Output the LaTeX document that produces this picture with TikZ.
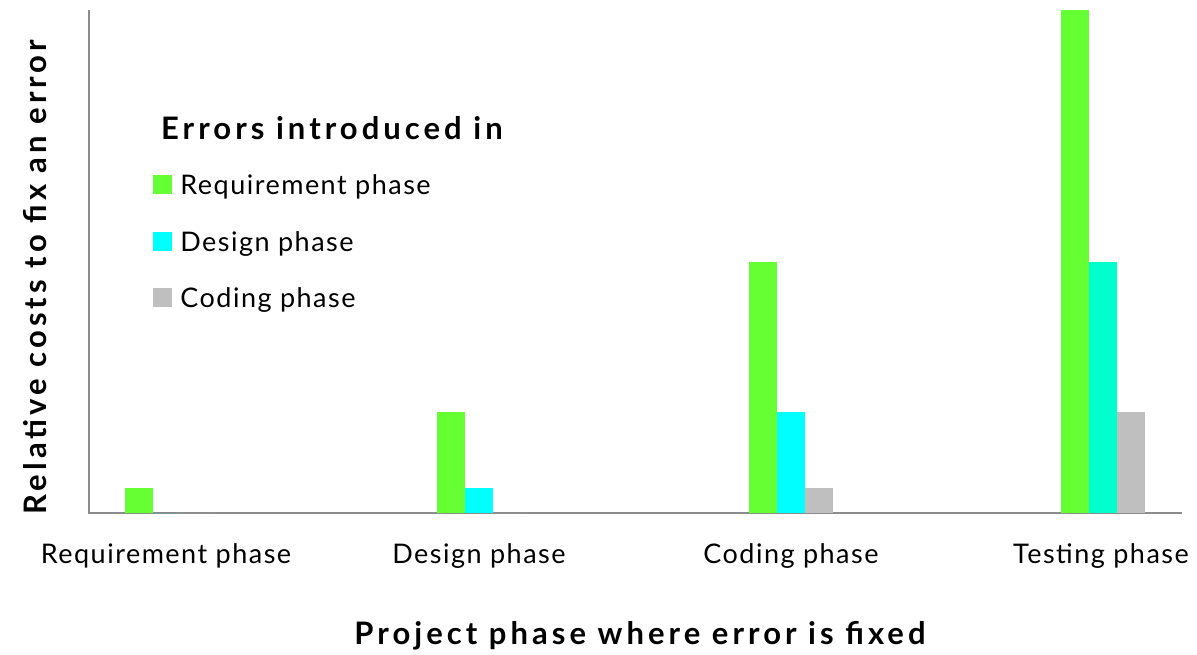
\documentclass[tikz,border=0pt]{standalone}
\usepackage{fontspec}
\setmainfont{Lato}
\newfontfamily\lblfont[LetterSpace=5.5]{Lato}
\newfontfamily\ttlfont[LetterSpace=13]{Lato}
\definecolor{reqgreen}{HTML}{66FF33}
\definecolor{dsgcyan}{HTML}{00FFFF}
\definecolor{dsgteal}{HTML}{00FFCC}
\definecolor{codgray}{HTML}{BFBFBF}
\definecolor{axisgray}{HTML}{8C8C8C}

\begin{document}
\begin{tikzpicture}[x=1pt,y=-1pt,
    ticklbl/.style={font=\lblfont\fontsize{27}{32}\selectfont, inner sep=0pt},
    axtitle/.style={font=\ttlfont\fontsize{31}{36}\selectfont\bfseries, inner sep=0pt},
    legsq/.style={minimum size=19pt, inner sep=0pt}]
    \useasboundingbox (0,0) rectangle (1197,654);
    \draw[axisgray, line width=1.5pt] (89,10) -- (89,513) -- (1182,513);
    % bars: start x / requirement / design / coding / design colour
    \foreach \x/\a/\b/\c/\col in {125/1/0/0/dsgcyan, 437/4/1/0/dsgcyan, 749/10/4/1/dsgcyan, 1061/20/10/4/dsgteal}{
      \fill[reqgreen] (\x,513) rectangle ++(28,-\a*25.15);
      \fill[\col] (\x+28,513) rectangle ++(28,-\b*25.15);
      \fill[codgray] (\x+56,513) rectangle ++(28,-\c*25.15);
    }
    \node[ticklbl, anchor=base] (req) at (166,563) {Requirement phase};
    \node[ticklbl, anchor=base] (dsg) at (479,563) {Design phase};
    \node[ticklbl, anchor=base] (cod) at (791,563) {Coding phase};
    \node[ticklbl, anchor=base] (tst) at (1101,563) {Testing phase};
    \node[axtitle, anchor=base] (xtitle) at (640,644) {Project phase where error is fixed};
    \node[axtitle, rotate=90] (ytitle) at (35,277) {Relative costs to fix an error};
    % legend
    \node[axtitle, anchor=base west] (legtitle) at (161,139) {Errors introduced in};
    \node[legsq, fill=reqgreen] (sqreq) at (162.5,184.5) {};
    \node[legsq, fill=dsgcyan] (sqdsg) at (162.5,241.5) {};
    \node[legsq, fill=codgray] (sqcod) at (162.5,297.5) {};
    \node[ticklbl, anchor=base west] (legreq) at ([xshift=8pt]sqreq.south east) {Requirement phase};
    \node[ticklbl, anchor=base west] (legdsg) at ([xshift=8pt]sqdsg.south east) {Design phase};
    \node[ticklbl, anchor=base west] (legcod) at ([xshift=8pt]sqcod.south east) {Coding phase};
  \end{tikzpicture}
\end{document}
